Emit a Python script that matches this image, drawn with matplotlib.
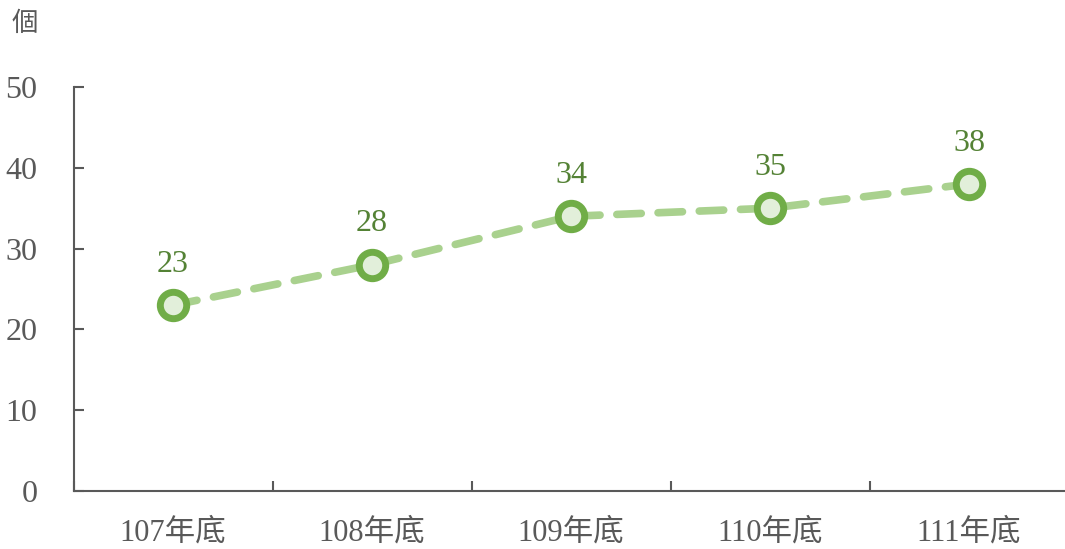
import matplotlib.pyplot as plt

# 資料
categories = ['107年底', '108年底', '109年底', '110年底', '111年底']
values = [23, 28, 34, 35, 38]
y_ticks = [0, 10, 20, 30, 40, 50]

plt.rcParams['font.family'] = ['Liberation Serif', 'Noto Sans CJK TC']

axis_color = '#595959'
line_color = '#a9d18e'
edge_color = '#70ad47'
face_color = '#e2efda'
label_color = '#548235'

fig = plt.figure(figsize=(10.65, 5.49), dpi=100)
ax = fig.add_axes([73.5 / 1065, 58 / 549, (1068.5 - 73.5) / 1065, 404 / 549])

x = list(range(len(categories)))
ax.plot(x, values, color=line_color, linewidth=5.5, linestyle=(0, (3.2, 2.2)),
        dash_capstyle='round', zorder=2)
ax.plot(x, values, linestyle='none', marker='o', markersize=19,
        markerfacecolor=face_color, markeredgecolor=edge_color,
        markeredgewidth=5, zorder=3)

for xi, v in zip(x, values):
    ax.annotate(str(v), (xi, v), xytext=(0, 19), textcoords='offset points',
                ha='center', va='bottom', fontsize=23, color=label_color)

ax.set_xlim(-0.5, len(categories) - 0.5)
ax.set_ylim(0, 50)
ax.set_yticks(y_ticks)
ax.set_xticks([i + 0.5 for i in range(-1, len(categories))], minor=False)
ax.set_xticklabels([])
ax.set_xticks(x, minor=True)
ax.set_xticklabels(categories, minor=True)

ax.tick_params(axis='x', which='major', direction='in', length=7, width=1.5,
               color=axis_color)
ax.tick_params(axis='x', which='minor', length=0, pad=20, labelsize=22,
               labelcolor=axis_color)
ax.tick_params(axis='y', direction='in', length=7, width=1.5, color=axis_color,
               pad=26, labelsize=23, labelcolor=axis_color)

for side in ['top', 'right']:
    ax.spines[side].set_visible(False)
for side in ['left', 'bottom']:
    ax.spines[side].set_color(axis_color)
    ax.spines[side].set_linewidth(1.5)

fig.text(12 / 1065, 1 - 24 / 549, '個', fontsize=19, color=axis_color,
         va='center', ha='left')

fig.savefig('out.png', dpi=100)
